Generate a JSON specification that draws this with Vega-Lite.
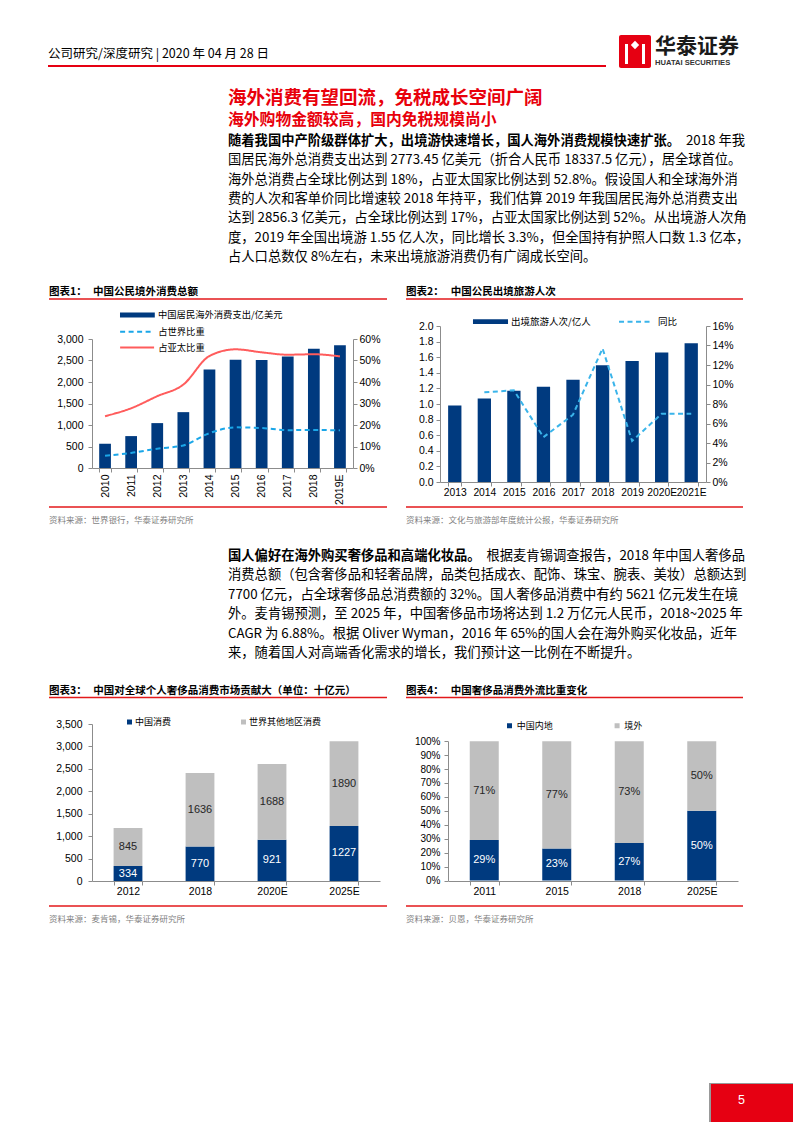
{
"$schema": "https://vega.github.io/schema/vega-lite/v6.json",
"padding": 0,
"background": "white",
"spacing": 0,
"bounds": "flush",
"align": "each",
"columns": 4,
"resolve": {
  "scale": {"x": "independent", "y": "independent", "color": "independent", "fill": "independent", "strokeDash": "independent"},
  "axis": {"x": "independent", "y": "independent"},
  "legend": {"color": "independent", "fill": "independent", "strokeDash": "independent"}
},
"config": {
  "view": {"stroke": null},
  "font": "Noto Sans CJK SC",
  "text": {"font": "Noto Sans CJK SC"},
  "axis": {"labelFont": "Liberation Sans", "labelFontSize": 10.5, "labelColor": "#000000", "domainColor": "#8C8C8C", "tickColor": "#8C8C8C", "tickSize": 4, "grid": false, "labelOverlap": false},
  "legend": {"labelFont": "Noto Sans CJK SC", "labelColor": "#000000", "padding": 0, "labelLimit": 300}
},
"datasets": {
  "para1": [
    {"i": 0, "part": "lead", "t": "随着我国中产阶级群体扩大，出境游快速增长，国人海外消费规模快速扩张。"},
    {"i": 0, "part": "tail", "t": "2018 年我"},
    {"i": 1, "part": "body", "t": "国居民海外总消费支出达到 2773.45 亿美元（折合人民币 18337.5 亿元），居全球首位。"},
    {"i": 2, "part": "body", "t": "海外总消费占全球比例达到 18%，占亚太国家比例达到 52.8%。假设国人和全球海外消"},
    {"i": 3, "part": "body", "t": "费的人次和客单价同比增速较 2018 年持平，我们估算 2019 年我国居民海外总消费支出"},
    {"i": 4, "part": "body", "t": "达到 2856.3 亿美元，占全球比例达到 17%，占亚太国家比例达到 52%。从出境游人次角"},
    {"i": 5, "part": "body", "t": "度，2019 年全国出境游 1.55 亿人次，同比增长 3.3%，但全国持有护照人口数 1.3 亿本，"},
    {"i": 6, "part": "body", "t": "占人口总数仅 8%左右，未来出境旅游消费仍有广阔成长空间。"}
  ],
  "para2": [
    {"i": 0, "part": "lead", "t": "国人偏好在海外购买奢侈品和高端化妆品。"},
    {"i": 0, "part": "tail", "t": "根据麦肯锡调查报告，2018 年中国人奢侈品"},
    {"i": 1, "part": "body", "t": "消费总额（包含奢侈品和轻奢品牌，品类包括成衣、配饰、珠宝、腕表、美妆）总额达到"},
    {"i": 2, "part": "body", "t": "7700 亿元，占全球奢侈品总消费额的 32%。国人奢侈品消费中有约 5621 亿元发生在境"},
    {"i": 3, "part": "body", "t": "外。麦肯锡预测，至 2025 年，中国奢侈品市场将达到 1.2 万亿元人民币，2018~2025 年"},
    {"i": 4, "part": "body", "t": "CAGR 为 6.88%。根据 Oliver Wyman，2016 年 65%的国人会在海外购买化妆品，近年"},
    {"i": 5, "part": "body", "t": "来，随着国人对高端香化需求的增长，我们预计这一比例在不断提升。"}
  ],
  "c1": [
    {"year": "2010", "spend": 564, "占世界比重": 0.057, "占亚太比重": 0.241},
    {"year": "2011", "spend": 742, "占世界比重": 0.070, "占亚太比重": 0.278},
    {"year": "2012", "spend": 1044, "占世界比重": 0.090, "占亚太比重": 0.334},
    {"year": "2013", "spend": 1299, "占世界比重": 0.105, "占亚太比重": 0.388},
    {"year": "2014", "spend": 2290, "占世界比重": 0.162, "占亚太比重": 0.521},
    {"year": "2015", "spend": 2515, "占世界比重": 0.189, "占亚太比重": 0.552},
    {"year": "2016", "spend": 2510, "占世界比重": 0.186, "占亚太比重": 0.538},
    {"year": "2017", "spend": 2595, "占世界比重": 0.176, "占亚太比重": 0.527},
    {"year": "2018", "spend": 2773, "占世界比重": 0.177, "占亚太比重": 0.529},
    {"year": "2019E", "spend": 2856, "占世界比重": 0.175, "占亚太比重": 0.519}
  ],
  "c2": [
    {"year": "2013", "trips": 0.98, "yoy": null},
    {"year": "2014", "trips": 1.07, "yoy": 0.092},
    {"year": "2015", "trips": 1.17, "yoy": 0.094},
    {"year": "2016", "trips": 1.22, "yoy": 0.046},
    {"year": "2017", "trips": 1.31, "yoy": 0.069},
    {"year": "2018", "trips": 1.497, "yoy": 0.137},
    {"year": "2019", "trips": 1.55, "yoy": 0.042},
    {"year": "2020E", "trips": 1.66, "yoy": 0.070},
    {"year": "2021E", "trips": 1.78, "yoy": 0.070}
  ],
  "c3": [
    {"year": "2012", "cat": "中国消费", "value": 334},
    {"year": "2012", "cat": "世界其他地区消费", "value": 845},
    {"year": "2018", "cat": "中国消费", "value": 770},
    {"year": "2018", "cat": "世界其他地区消费", "value": 1636},
    {"year": "2020E", "cat": "中国消费", "value": 921},
    {"year": "2020E", "cat": "世界其他地区消费", "value": 1688},
    {"year": "2025E", "cat": "中国消费", "value": 1227},
    {"year": "2025E", "cat": "世界其他地区消费", "value": 1890}
  ],
  "c4": [
    {"year": "2011", "cat": "中国内地", "value": 0.29},
    {"year": "2011", "cat": "境外", "value": 0.71},
    {"year": "2015", "cat": "中国内地", "value": 0.23},
    {"year": "2015", "cat": "境外", "value": 0.77},
    {"year": "2018", "cat": "中国内地", "value": 0.27},
    {"year": "2018", "cat": "境外", "value": 0.73},
    {"year": "2025E", "cat": "中国内地", "value": 0.50},
    {"year": "2025E", "cat": "境外", "value": 0.50}
  ]
},
"concat": [
  {
    "width": 91.5, "height": 326,
    "layer": [
      {"data": {"values": [{"t": "公司研究/深度研究 | 2020 年 04 月 28 日"}]}, "mark": {"type": "text", "align": "left", "baseline": "middle", "fontSize": 12.5, "color": "#000000"}, "encoding": {"x": {"value": 48}, "y": {"value": 54}, "text": {"field": "t", "type": "nominal"}}},
      {"data": {"values": [{}]}, "mark": {"type": "rule", "color": "#E60012", "strokeWidth": 2}, "encoding": {"x": {"value": 48}, "x2": {"value": 606}, "y": {"value": 66}}},
      {"data": {"values": [{}]}, "mark": {"type": "rect", "color": "#E60012", "cornerRadius": 2}, "encoding": {"x": {"value": 619}, "x2": {"value": 651}, "y": {"value": 35}, "y2": {"value": 68}}},
      {"data": {"values": [{}]}, "mark": {"type": "point", "shape": "diamond", "filled": true, "color": "#FFFFFF", "size": 70, "opacity": 1}, "encoding": {"x": {"value": 635}, "y": {"value": 45}}},
      {"data": {"values": [{}]}, "mark": {"type": "rect", "color": "#FFFFFF"}, "encoding": {"x": {"value": 625}, "x2": {"value": 628}, "y": {"value": 44}, "y2": {"value": 64}}},
      {"data": {"values": [{}]}, "mark": {"type": "rect", "color": "#FFFFFF"}, "encoding": {"x": {"value": 642}, "x2": {"value": 645}, "y": {"value": 44}, "y2": {"value": 64}}},
      {"data": {"values": [{"t": "华泰证券"}]}, "mark": {"type": "text", "align": "left", "baseline": "middle", "fontSize": 21, "fontWeight": "bold", "color": "#1a1a1a"}, "encoding": {"x": {"value": 655}, "y": {"value": 47}, "text": {"field": "t", "type": "nominal"}}},
      {"data": {"values": [{"t": "HUATAI SECURITIES"}]}, "mark": {"type": "text", "align": "left", "baseline": "middle", "fontSize": 7.6, "fontWeight": "bold", "font": "Liberation Sans", "color": "#333333"}, "encoding": {"x": {"value": 655}, "y": {"value": 63}, "text": {"field": "t", "type": "nominal"}}},
      {"data": {"values": [{"t": "海外消费有望回流，免税成长空间广阔"}]}, "mark": {"type": "text", "align": "left", "baseline": "middle", "fontSize": 18.5, "fontWeight": "bold", "color": "#E8000B"}, "encoding": {"x": {"value": 228}, "y": {"value": 97.5}, "text": {"field": "t", "type": "nominal"}}},
      {"data": {"values": [{"t": "海外购物金额较高，国内免税规模尚小"}]}, "mark": {"type": "text", "align": "left", "baseline": "middle", "fontSize": 15.8, "fontWeight": "bold", "color": "#E8000B"}, "encoding": {"x": {"value": 228}, "y": {"value": 119.5}, "text": {"field": "t", "type": "nominal"}}},
      {"data": {"name": "para1"}, "transform": [{"filter": "datum.part === 'lead'"}], "mark": {"type": "text", "align": "left", "baseline": "middle", "fontSize": 13.3, "fontWeight": "bold", "color": "#000000"}, "encoding": {"x": {"value": 228}, "y": {"field": "i", "type": "quantitative", "scale": {"domain": [0, 6], "range": [141, 257]}, "axis": null}, "text": {"field": "t", "type": "nominal"}}},
      {"data": {"name": "para1"}, "transform": [{"filter": "datum.part === 'tail'"}], "mark": {"type": "text", "align": "right", "baseline": "middle", "fontSize": 13.3, "color": "#000000"}, "encoding": {"x": {"value": 745}, "y": {"field": "i", "type": "quantitative", "scale": {"domain": [0, 6], "range": [141, 257]}, "axis": null}, "text": {"field": "t", "type": "nominal"}}},
      {"data": {"name": "para1"}, "transform": [{"filter": "datum.part === 'body'"}], "mark": {"type": "text", "align": "left", "baseline": "middle", "fontSize": 13.3, "color": "#000000"}, "encoding": {"x": {"value": 228}, "y": {"field": "i", "type": "quantitative", "scale": {"domain": [0, 6], "range": [141, 257]}, "axis": null}, "text": {"field": "t", "type": "nominal"}}},
      {"data": {"values": [{"t": "图表1："}]}, "mark": {"type": "text", "align": "left", "baseline": "middle", "fontSize": 10.5, "fontWeight": "bold", "color": "#000000"}, "encoding": {"x": {"value": 49}, "y": {"value": 291.7}, "text": {"field": "t", "type": "nominal"}}},
      {"data": {"values": [{"t": "中国公民境外消费总额"}]}, "mark": {"type": "text", "align": "left", "baseline": "middle", "fontSize": 10.5, "fontWeight": "bold", "color": "#000000"}, "encoding": {"x": {"value": 93}, "y": {"value": 291.7}, "text": {"field": "t", "type": "nominal"}}},
      {"data": {"values": [{"t": "图表2："}]}, "mark": {"type": "text", "align": "left", "baseline": "middle", "fontSize": 10.5, "fontWeight": "bold", "color": "#000000"}, "encoding": {"x": {"value": 406}, "y": {"value": 291.7}, "text": {"field": "t", "type": "nominal"}}},
      {"data": {"values": [{"t": "中国公民出境旅游人次"}]}, "mark": {"type": "text", "align": "left", "baseline": "middle", "fontSize": 10.5, "fontWeight": "bold", "color": "#000000"}, "encoding": {"x": {"value": 450.7}, "y": {"value": 291.7}, "text": {"field": "t", "type": "nominal"}}},
      {"data": {"values": [{}]}, "mark": {"type": "rule", "color": "#E3191B", "strokeWidth": 1.5}, "encoding": {"x": {"value": 49}, "x2": {"value": 387}, "y": {"value": 299}}},
      {"data": {"values": [{}]}, "mark": {"type": "rule", "color": "#E3191B", "strokeWidth": 1.5}, "encoding": {"x": {"value": 406}, "x2": {"value": 743}, "y": {"value": 299}}}
    ]
  },
  {"width": 1, "height": 1, "data": {"values": []}, "mark": "point"},
  {"width": 1, "height": 1, "data": {"values": []}, "mark": "point"},
  {"width": 1, "height": 1, "data": {"values": []}, "mark": "point"},

  {"width": 91.5, "height": 1, "data": {"values": []}, "mark": "point"},
  {
    "width": 261, "height": 142,
    "data": {"name": "c1"},
    "encoding": {"x": {"field": "year", "type": "ordinal", "scale": {"paddingInner": 0.55, "paddingOuter": 0.275}, "axis": {"labelAngle": -90, "tickBand": "extent", "labelPadding": 2, "title": null, "labelFontSize": 10.5}}},
    "layer": [
      {"mark": {"type": "bar"}, "encoding": {
        "y": {"field": "spend", "type": "quantitative", "scale": {"domain": [0, 3000], "range": [142, 13]}, "axis": {"values": [0, 500, 1000, 1500, 2000, 2500, 3000], "format": ",.0f", "title": null, "labelPadding": 5}},
        "fill": {"datum": "中国居民海外消费支出/亿美元", "type": "nominal", "scale": {"range": ["#003A7F"]}, "legend": {"orient": "none", "legendX": 39.4, "legendY": -17, "title": null, "symbolType": "M-2.9,-0.4H2.9V0.4H-2.9Z", "symbolSize": 144, "symbolStrokeWidth": 0, "labelOffset": 14.6, "labelFontSize": 9.3}}}},
      {"transform": [{"fold": ["占世界比重", "占亚太比重"], "as": ["series", "share"]}], "mark": {"type": "line", "interpolate": "monotone", "strokeWidth": 2}, "encoding": {
        "y": {"field": "share", "type": "quantitative", "scale": {"domain": [0, 0.6], "range": [142, 13]}, "axis": {"orient": "right", "values": [0, 0.1, 0.2, 0.3, 0.4, 0.5, 0.6], "format": ".0%", "title": null, "labelPadding": 2}},
        "color": {"field": "series", "type": "nominal", "scale": {"domain": ["占世界比重", "占亚太比重"], "range": ["#1AA6E8", "#FF5C5C"]}, "legend": {"orient": "none", "legendX": 38.1, "legendY": -1.2, "title": null, "symbolType": "M-2.83,0H2.83", "symbolSize": 144, "symbolStrokeWidth": 2, "labelOffset": 14.1, "rowPadding": 2.7, "labelFontSize": 9.3}},
        "strokeDash": {"field": "series", "type": "nominal", "scale": {"domain": ["占世界比重", "占亚太比重"], "range": [[5, 3.5], [1, 0]]}, "legend": {"orient": "none", "legendX": 38.1, "legendY": -1.2, "title": null, "symbolType": "M-2.83,0H2.83", "symbolSize": 144, "symbolStrokeWidth": 2, "labelOffset": 14.1, "rowPadding": 2.7, "labelFontSize": 9.3}}}}
    ],
    "resolve": {"scale": {"y": "independent"}}
  },
  {"width": 59.5, "height": 1, "data": {"values": []}, "mark": "point"},
  {
    "width": 266, "height": 156,
    "data": {"name": "c2"},
    "encoding": {"x": {"field": "year", "type": "ordinal", "scale": {"paddingInner": 0.55, "paddingOuter": 0.275}, "axis": {"labelAngle": 0, "tickBand": "extent", "labelPadding": 1.5, "title": null, "labelFontSize": 10.3}}},
    "layer": [
      {"mark": {"type": "bar"}, "encoding": {
        "y": {"field": "trips", "type": "quantitative", "scale": {"domain": [0, 2]}, "axis": {"values": [0, 0.2, 0.4, 0.6, 0.8, 1, 1.2, 1.4, 1.6, 1.8, 2], "format": ".1f", "title": null, "labelPadding": 3}},
        "fill": {"datum": "出境旅游人次/亿人", "type": "nominal", "scale": {"range": ["#003A7F"]}, "legend": {"orient": "none", "legendX": 44.5, "legendY": -10.3, "title": null, "symbolType": "M-2.92,-0.4H2.92V0.4H-2.92Z", "symbolSize": 144, "symbolStrokeWidth": 0, "labelOffset": 14.5, "labelFontSize": 9.5}}}},
      {"transform": [{"filter": {"field": "yoy", "valid": true}}], "mark": {"type": "line", "strokeWidth": 2, "strokeDash": [5, 3.5]}, "encoding": {
        "y": {"field": "yoy", "type": "quantitative", "scale": {"domain": [0, 0.16]}, "axis": {"orient": "right", "values": [0, 0.02, 0.04, 0.06, 0.08, 0.1, 0.12, 0.14, 0.16], "format": ".0%", "title": null, "labelPadding": 2}},
        "color": {"datum": "同比", "type": "nominal", "scale": {"range": ["#3AB4EA"]}, "legend": {"orient": "none", "legendX": 189, "legendY": -11.3, "title": null, "symbolType": "M-2.83,0H2.83", "symbolSize": 144, "symbolStrokeWidth": 2, "symbolDash": [5, 3.5], "labelOffset": 15, "labelFontSize": 9.5}}}}
    ],
    "resolve": {"scale": {"y": "independent"}}
  },

  {
    "width": 91.5, "height": 242,
    "layer": [
      {"data": {"values": [{}]}, "mark": {"type": "rule", "color": "#E3191B", "strokeWidth": 1.5}, "encoding": {"x": {"value": 49}, "x2": {"value": 387}, "y": {"value": 25}}},
      {"data": {"values": [{}]}, "mark": {"type": "rule", "color": "#E3191B", "strokeWidth": 1.5}, "encoding": {"x": {"value": 406}, "x2": {"value": 743}, "y": {"value": 25}}},
      {"data": {"values": [{"t": "资料来源：世界银行，华泰证券研究所"}]}, "mark": {"type": "text", "align": "left", "baseline": "middle", "fontSize": 8.5, "color": "#7F7F7F"}, "encoding": {"x": {"value": 49}, "y": {"value": 38}, "text": {"field": "t", "type": "nominal"}}},
      {"data": {"values": [{"t": "资料来源：文化与旅游部年度统计公报，华泰证券研究所"}]}, "mark": {"type": "text", "align": "left", "baseline": "middle", "fontSize": 8.5, "color": "#7F7F7F"}, "encoding": {"x": {"value": 406}, "y": {"value": 38}, "text": {"field": "t", "type": "nominal"}}},
      {"data": {"name": "para2"}, "transform": [{"filter": "datum.part === 'lead'"}], "mark": {"type": "text", "align": "left", "baseline": "middle", "fontSize": 13.3, "fontWeight": "bold", "color": "#000000"}, "encoding": {"x": {"value": 228}, "y": {"field": "i", "type": "quantitative", "scale": {"domain": [0, 5], "range": [73.5, 171]}, "axis": null}, "text": {"field": "t", "type": "nominal"}}},
      {"data": {"name": "para2"}, "transform": [{"filter": "datum.part === 'tail'"}], "mark": {"type": "text", "align": "right", "baseline": "middle", "fontSize": 13.3, "color": "#000000"}, "encoding": {"x": {"value": 745}, "y": {"field": "i", "type": "quantitative", "scale": {"domain": [0, 5], "range": [73.5, 171]}, "axis": null}, "text": {"field": "t", "type": "nominal"}}},
      {"data": {"name": "para2"}, "transform": [{"filter": "datum.part === 'body'"}], "mark": {"type": "text", "align": "left", "baseline": "middle", "fontSize": 13.3, "color": "#000000"}, "encoding": {"x": {"value": 228}, "y": {"field": "i", "type": "quantitative", "scale": {"domain": [0, 5], "range": [73.5, 171]}, "axis": null}, "text": {"field": "t", "type": "nominal"}}},
      {"data": {"values": [{"t": "图表3："}]}, "mark": {"type": "text", "align": "left", "baseline": "middle", "fontSize": 10.5, "fontWeight": "bold", "color": "#000000"}, "encoding": {"x": {"value": 49}, "y": {"value": 208.7}, "text": {"field": "t", "type": "nominal"}}},
      {"data": {"values": [{"t": "中国对全球个人奢侈品消费市场贡献大（单位：十亿元）"}]}, "mark": {"type": "text", "align": "left", "baseline": "middle", "fontSize": 10.5, "fontWeight": "bold", "color": "#000000"}, "encoding": {"x": {"value": 93.3}, "y": {"value": 208.7}, "text": {"field": "t", "type": "nominal"}}},
      {"data": {"values": [{"t": "图表4："}]}, "mark": {"type": "text", "align": "left", "baseline": "middle", "fontSize": 10.5, "fontWeight": "bold", "color": "#000000"}, "encoding": {"x": {"value": 406}, "y": {"value": 208.7}, "text": {"field": "t", "type": "nominal"}}},
      {"data": {"values": [{"t": "中国奢侈品消费外流比重变化"}]}, "mark": {"type": "text", "align": "left", "baseline": "middle", "fontSize": 10.5, "fontWeight": "bold", "color": "#000000"}, "encoding": {"x": {"value": 450.7}, "y": {"value": 208.7}, "text": {"field": "t", "type": "nominal"}}},
      {"data": {"values": [{}]}, "mark": {"type": "rule", "color": "#E3191B", "strokeWidth": 1.5}, "encoding": {"x": {"value": 49}, "x2": {"value": 387}, "y": {"value": 215.5}}},
      {"data": {"values": [{}]}, "mark": {"type": "rule", "color": "#E3191B", "strokeWidth": 1.5}, "encoding": {"x": {"value": 406}, "x2": {"value": 743}, "y": {"value": 215.5}}}
    ]
  },
  {"width": 1, "height": 1, "data": {"values": []}, "mark": "point"},
  {"width": 1, "height": 1, "data": {"values": []}, "mark": "point"},
  {"width": 1, "height": 1, "data": {"values": []}, "mark": "point"},

  {"width": 91.5, "height": 1, "data": {"values": []}, "mark": "point"},
  {
    "width": 288, "height": 157,
    "data": {"name": "c3"},
    "encoding": {"x": {"field": "year", "type": "ordinal", "scale": {"paddingInner": 0.6, "paddingOuter": 0.3}, "axis": {"labelAngle": 0, "tickBand": "extent", "labelPadding": 1.5, "title": null}}},
    "layer": [
      {"mark": {"type": "bar"}, "encoding": {
        "y": {"field": "value", "type": "quantitative", "stack": "zero", "scale": {"domain": [0, 3500]}, "axis": {"values": [0, 500, 1000, 1500, 2000, 2500, 3000, 3500], "format": ",.0f", "title": null, "labelPadding": 6}},
        "color": {"field": "cat", "type": "nominal", "scale": {"domain": ["中国消费", "世界其他地区消费"], "range": ["#003A7F", "#BFBFBF"]}, "legend": {"orient": "none", "direction": "horizontal", "legendX": 33, "legendY": -6.75, "title": null, "symbolType": "square", "symbolSize": 25, "symbolStrokeWidth": 0, "labelOffset": 1, "columnPadding": 67, "labelFontSize": 9}},
        "order": {"field": "cat", "sort": "descending"}}},
      {"transform": [
        {"stack": "value", "groupby": ["year"], "sort": [{"field": "cat", "order": "descending"}], "as": ["v0", "v1"]},
        {"fold": ["v0", "v1"], "as": ["edge", "ev"]},
        {"aggregate": [{"op": "mean", "field": "ev", "as": "mid"}], "groupby": ["year", "cat", "value"]}
      ], "mark": {"type": "text", "font": "Liberation Sans", "fontSize": 11, "baseline": "middle"}, "encoding": {
        "y": {"field": "mid", "type": "quantitative", "scale": {"domain": [0, 3500]}, "axis": {"values": [0, 500, 1000, 1500, 2000, 2500, 3000, 3500], "format": ",.0f", "title": null, "labelPadding": 6}},
        "text": {"field": "value", "type": "quantitative", "format": "d"},
        "color": {"condition": {"test": "datum.cat === '中国消费'", "value": "#FFFFFF"}, "value": "#262626"}}}
    ]
  },
  {"width": 1, "height": 1, "data": {"values": []}, "mark": "point"},
  {
    "width": 298, "height": 157,
    "data": {"name": "c4"},
    "encoding": {"x": {"field": "year", "type": "ordinal", "scale": {"range": [8, 298], "paddingInner": 0.6, "paddingOuter": 0.3}, "axis": {"labelAngle": 0, "tickBand": "extent", "labelPadding": 1.5, "title": null}}},
    "layer": [
      {"mark": {"type": "bar"}, "encoding": {
        "y": {"field": "value", "type": "quantitative", "stack": "zero", "scale": {"domain": [0, 1], "range": [156.5, 17.2]}, "axis": {"values": [0, 0.1, 0.2, 0.3, 0.4, 0.5, 0.6, 0.7, 0.8, 0.9, 1], "format": ".0%", "title": null, "labelPadding": 4, "offset": -8, "labelFontSize": 10}},
        "color": {"field": "cat", "type": "nominal", "scale": {"domain": ["中国内地", "境外"], "range": ["#003A7F", "#BFBFBF"]}, "legend": {"orient": "none", "direction": "horizontal", "legendX": 65, "legendY": -3, "title": null, "symbolType": "square", "symbolSize": 25, "symbolStrokeWidth": 0, "labelOffset": 2.7, "columnPadding": 59.6, "labelFontSize": 9}},
        "order": {"field": "cat", "sort": "ascending"}}},
      {"transform": [
        {"stack": "value", "groupby": ["year"], "sort": [{"field": "cat", "order": "ascending"}], "as": ["v0", "v1"]},
        {"fold": ["v0", "v1"], "as": ["edge", "ev"]},
        {"aggregate": [{"op": "mean", "field": "ev", "as": "mid"}], "groupby": ["year", "cat", "value"]}
      ], "mark": {"type": "text", "font": "Liberation Sans", "fontSize": 11, "baseline": "middle"}, "encoding": {
        "y": {"field": "mid", "type": "quantitative", "scale": {"domain": [0, 1], "range": [156.5, 17.2]}, "axis": {"values": [0, 0.1, 0.2, 0.3, 0.4, 0.5, 0.6, 0.7, 0.8, 0.9, 1], "format": ".0%", "title": null, "labelPadding": 4, "offset": -8, "labelFontSize": 10}},
        "text": {"field": "value", "type": "quantitative", "format": ".0%"},
        "color": {"condition": {"test": "datum.cat === '中国内地'", "value": "#FFFFFF"}, "value": "#262626"}}}
    ]
  },

  {
    "width": 91.5, "height": 241,
    "layer": [
      {"data": {"values": [{}]}, "mark": {"type": "rule", "color": "#E3191B", "strokeWidth": 1.5}, "encoding": {"x": {"value": 49}, "x2": {"value": 387}, "y": {"value": 25}}},
      {"data": {"values": [{}]}, "mark": {"type": "rule", "color": "#E3191B", "strokeWidth": 1.5}, "encoding": {"x": {"value": 406}, "x2": {"value": 743}, "y": {"value": 25}}},
      {"data": {"values": [{"t": "资料来源：麦肯锡，华泰证券研究所"}]}, "mark": {"type": "text", "align": "left", "baseline": "middle", "fontSize": 8.5, "color": "#7F7F7F"}, "encoding": {"x": {"value": 49}, "y": {"value": 38}, "text": {"field": "t", "type": "nominal"}}},
      {"data": {"values": [{"t": "资料来源：贝恩，华泰证券研究所"}]}, "mark": {"type": "text", "align": "left", "baseline": "middle", "fontSize": 8.5, "color": "#7F7F7F"}, "encoding": {"x": {"value": 406}, "y": {"value": 38}, "text": {"field": "t", "type": "nominal"}}},
      {"data": {"values": [{}]}, "mark": {"type": "rect", "color": "#999999"}, "encoding": {"x": {"value": 709}, "x2": {"value": 793}, "y": {"value": 202}, "y2": {"value": 241}}},
      {"data": {"values": [{}]}, "mark": {"type": "rect", "color": "#E60012"}, "encoding": {"x": {"value": 711}, "x2": {"value": 793}, "y": {"value": 203}, "y2": {"value": 241}}},
      {"data": {"values": [{"t": "5"}]}, "mark": {"type": "text", "align": "center", "baseline": "middle", "fontSize": 12.5, "font": "Liberation Sans", "color": "#FFFFFF"}, "encoding": {"x": {"value": 741.5}, "y": {"value": 219}, "text": {"field": "t", "type": "nominal"}}}
    ]
  }
]
}
